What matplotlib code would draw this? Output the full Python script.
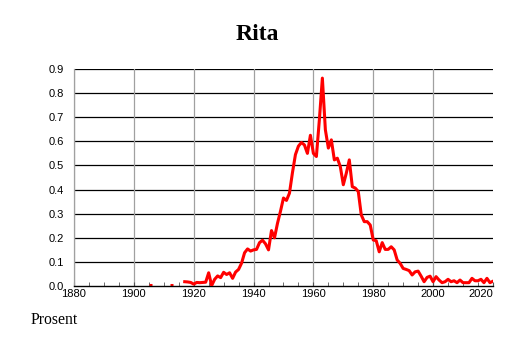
import numpy as np
import matplotlib
matplotlib.use("Agg")
import matplotlib.pyplot as plt

# early scattered years (separate short segments)
early_years_a = [1905, 1906]
early_vals_a = [0.006, 0.006]
early_years_b = [1912, 1913]
early_vals_b = [0.005, 0.005]

# continuous series 1917-2020
years = list(range(1917, 2021))
vals = [0.018, 0.017, 0.015, 0.008, 0.015, 0.014, 0.015, 0.016, 0.055, 0.002,
        0.028, 0.042, 0.035, 0.057, 0.048, 0.055, 0.032, 0.058, 0.069, 0.095,
        0.138, 0.154, 0.145, 0.150, 0.152, 0.180, 0.190, 0.175, 0.150, 0.230,
        0.200, 0.260, 0.310, 0.365, 0.355, 0.385, 0.470, 0.545, 0.580, 0.595,
        0.585, 0.550, 0.625, 0.550, 0.537, 0.690, 0.862, 0.648, 0.572, 0.606,
        0.523, 0.530, 0.495, 0.420, 0.468, 0.523, 0.412, 0.406, 0.392, 0.295,
        0.267, 0.267, 0.253, 0.191, 0.188, 0.142, 0.180, 0.152, 0.152, 0.163,
        0.150, 0.108, 0.094, 0.073, 0.069, 0.064, 0.046, 0.059, 0.062, 0.041,
        0.018, 0.036, 0.041, 0.018, 0.039, 0.025, 0.014, 0.018, 0.028, 0.018,
        0.022, 0.014, 0.025, 0.014, 0.014, 0.014, 0.032, 0.022, 0.022, 0.028,
        0.014, 0.032, 0.014, 0.020]

fig = plt.figure(figsize=(5.14, 3.43), dpi=100)
ax = fig.add_axes([0.144, 0.166, 0.815, 0.633])

red = "#ff0000"
ax.plot(early_years_a, early_vals_a, color=red, lw=2.2, solid_capstyle="butt")
ax.plot(early_years_b, early_vals_b, color=red, lw=2.2, solid_capstyle="butt")
ax.plot(years, vals, color=red, lw=2.2, zorder=3)

ax.set_xlim(1880, 2020)
ax.set_ylim(0, 0.9)

ax.set_yticks(np.arange(0, 0.91, 0.1))
ax.set_yticklabels(["%.1f" % v for v in np.arange(0, 0.91, 0.1)],
                   family="Liberation Sans", fontsize=8)
ax.set_xticks(range(1880, 2021, 20))
ax.set_xticklabels([str(y) for y in range(1880, 2021, 20)],
                   family="Liberation Sans", fontsize=8)
ax.set_xticks(range(1880, 2021, 5), minor=True)
lbls = ax.get_xticklabels()
lbls[-1].set_horizontalalignment("right")

ax.tick_params(axis="y", length=0, pad=7)
ax.tick_params(axis="x", which="both", direction="in", length=3, pad=2,
               color="#555555")

for y in np.arange(0.1, 0.91, 0.1):
    ax.axhline(y, color="black", lw=0.9, zorder=1)
for x in range(1880, 2020, 20):
    ax.axvline(x, color="#a0a0a0", lw=0.9, zorder=1)

for s in ["top", "right"]:
    ax.spines[s].set_visible(False)
ax.spines["left"].set_color("#a0a0a0")
ax.spines["left"].set_linewidth(0.9)
ax.spines["bottom"].set_color("black")
ax.spines["bottom"].set_linewidth(1.0)

fig.text(0.5, 0.90, "Rita", ha="center", va="center", family="Liberation Serif",
         fontweight="bold", fontsize=17)
fig.text(0.060, 0.067, "Prosent", ha="left", va="center",
         family="Liberation Serif", fontsize=11.3)

plt.savefig("out.png", dpi=100)
